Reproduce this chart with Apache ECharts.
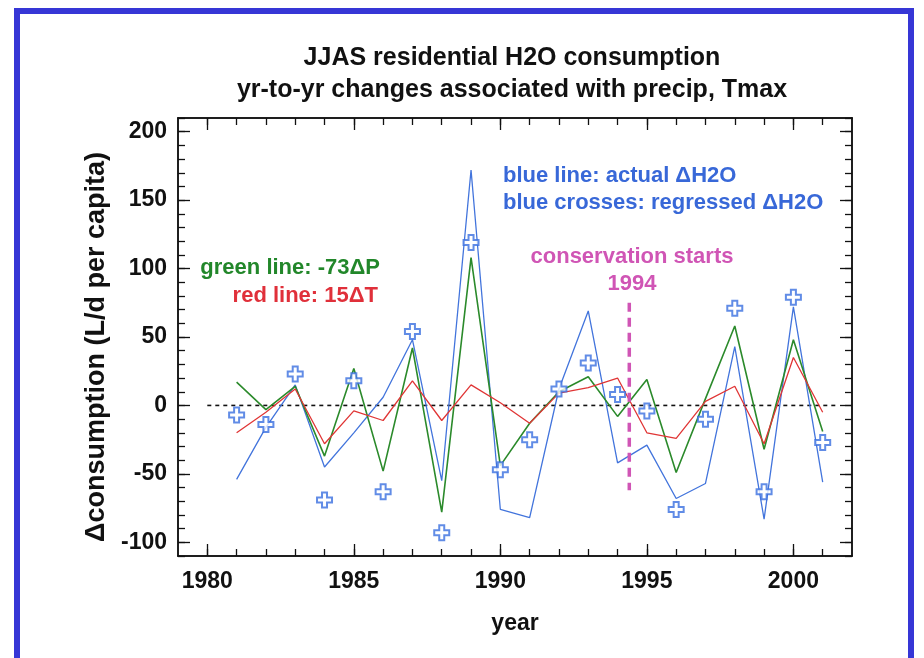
<!DOCTYPE html>
<html><head><meta charset="utf-8">
<script src="https://cdn.jsdelivr.net/npm/echarts@6/dist/echarts.min.js"></script>
<style>html,body{margin:0;padding:0;background:#fff}#c{width:924px;height:658px}</style>
</head><body><div id="c"></div>
<script>
// ---- data ----
const years = [1981,1982,1983,1984,1985,1986,1987,1988,1989,1990,1991,1992,1993,1994,1995,1996,1997,1998,1999,2000,2001];
const blueActual = [-54,-16,15,-45,-20,6,48,-55,172,-76,-82,12,69,-42,-29,-68,-57,43,-83,72,-56];
const blueRegressed = [-7,-14,23,-69,18,-63,54,-93,119,-47,-25,12,31,8,-4,-76,-10,71,-63,79,-27];
const greenPrecip = [17,-3,14,-37,27,-48,42,-78,108,-44,-13,10,21,-8,19,-49,5,58,-32,48,-19];
const redTmax = [-20,-5,12,-28,-4,-11,18,-11,15,2,-13,9,13,20,-20,-24,3,14,-28,35,-5];
const xMajorTicks = [1980,1985,1990,1995,2000];
const xMinorTicks = [1980,1981,1982,1983,1984,1985,1986,1987,1988,1989,1990,1991,1992,1993,1994,1995,1996,1997,1998,1999,2000,2001];
const yMajorTicks = [-100,-50,0,50,100,150,200];
const yMinorTicks = [-110,-100,-90,-80,-70,-60,-50,-40,-30,-20,-10,0,10,20,30,40,50,60,70,80,90,100,110,120,130,140,150,160,170,180,190,200,210];
const zeroLineX = [1980, 2001.5];
const conservationYear = 1994.4;
const conservationSpan = [75, -62];

// ---- chart ----
const FONT = "'Liberation Sans',Arial,sans-serif";
const chart = echarts.init(document.getElementById('c'));
const gridRect = {left:178, top:118, width:674, height:438};
const axisLineStyle = {show:true, onZero:false, lineStyle:{color:'#111', width:1.5}};
function xAx(grid, pos, ticks, len, labels){
  return {type:'value', gridIndex:grid, position:pos, min:1979, max:2002,
    axisLine:axisLineStyle, splitLine:{show:false},
    axisTick:{show:true, inside:true, length:len, customValues:ticks, lineStyle:{color:'#111', width:1.3}},
    axisLabel:labels ? {show:true, customValues:xMajorTicks, formatter:v=>String(v), margin:14, fontSize:23, fontWeight:'bold', fontFamily:FONT, color:'#111'} : {show:false},
    name: labels ? 'year' : '', nameLocation:'middle', nameGap:56,
    nameTextStyle:{fontSize:23, fontWeight:'bold', fontFamily:FONT, color:'#111'}};
}
function yAx(grid, pos, ticks, len, labels){
  return {type:'value', gridIndex:grid, position:pos, min:-110, max:210,
    axisLine:axisLineStyle, splitLine:{show:false},
    axisTick:{show:true, inside:true, length:len, customValues:ticks, lineStyle:{color:'#111', width:1.3}},
    axisLabel:labels ? {show:true, customValues:yMajorTicks, formatter:v=>String(v), margin:11, fontSize:23, fontWeight:'bold', fontFamily:FONT, color:'#111'} : {show:false},
    name: labels ? 'Δconsumption (L/d per capita)' : '', nameLocation:'middle', nameGap:36, nameRotate:90,
    nameTextStyle:{fontSize:27, fontWeight:'bold', fontFamily:FONT, color:'#111', padding:[0,20,0,0]}};
}
const pts = arr => years.map((y,i)=>[y, arr[i]]);

chart.setOption({
  backgroundColor:'#fff',
  animation:false,
  title:{text:'JJAS residential H2O consumption\nyr-to-yr changes associated with precip, Tmax',
    left:507, top:37, textAlign:'center',
    textStyle:{fontSize:25, fontWeight:'bold', lineHeight:32, fontFamily:FONT, color:'#111'}},
  grid:[Object.assign({}, gridRect), Object.assign({}, gridRect)],
  xAxis:[xAx(0,'bottom',xMajorTicks,12,true), xAx(0,'top',xMajorTicks,12,false),
         xAx(1,'bottom',xMinorTicks,7,false), xAx(1,'top',xMinorTicks,7,false)],
  yAxis:[yAx(0,'left',yMajorTicks,12,true), yAx(0,'right',yMajorTicks,12,false),
         yAx(1,'left',yMinorTicks,7,false), yAx(1,'right',yMinorTicks,7,false)],
  series:[
    {type:'line', name:'zero', data:zeroLineX.map(x=>[x,0]), symbol:'none', silent:true,
     lineStyle:{color:'#111', width:1.6, type:[4,4]}},
    {type:'line', name:'actual', data:pts(blueActual), symbol:'none',
     lineStyle:{color:'#4274dc', width:1.3}},
    {type:'line', name:'precip', data:pts(greenPrecip), symbol:'none',
     lineStyle:{color:'#2b8a2b', width:1.6}},
    {type:'line', name:'tmax', data:pts(redTmax), symbol:'none',
     lineStyle:{color:'#e03535', width:1.3}},
    {type:'line', name:'conservation', data:conservationSpan.map(v=>[conservationYear,v]), symbol:'none',
     lineStyle:{color:'#d055b5', width:3.5, type:[9,6]}},
    {type:'scatter', name:'regressed', data:pts(blueRegressed),
     symbol:'path://M-1,-3L1,-3L1,-1L3,-1L3,1L1,1L1,3L-1,3L-1,1L-3,1L-3,-1L-1,-1Z', symbolSize:15,
     itemStyle:{color:'#fff', borderColor:'#3a6fe0', borderWidth:2}, z:5}
  ],
  graphic:[
    {type:'rect', shape:{x:17, y:11, width:894, height:700}, style:{fill:null, stroke:'#3636d6', lineWidth:6}, silent:true},
    {type:'text', x:503, y:176, style:{text:'blue line: actual ΔH2O', font:"bold 22px "+FONT, fill:'#3868d8', verticalAlign:'middle'}},
    {type:'text', x:503, y:203, style:{text:'blue crosses: regressed ΔH2O', font:"bold 22px "+FONT, fill:'#3868d8', verticalAlign:'middle'}},
    {type:'text', x:632, y:257, style:{text:'conservation starts', font:"bold 22px "+FONT, fill:'#d055b5', align:'center', verticalAlign:'middle'}},
    {type:'text', x:632, y:284, style:{text:'1994', font:"bold 22px "+FONT, fill:'#d055b5', align:'center', verticalAlign:'middle'}},
    {type:'text', x:380, y:268, style:{text:'green line: -73ΔP', font:"bold 22px "+FONT, fill:'#22872a', align:'right', verticalAlign:'middle'}},
    {type:'text', x:378, y:296, style:{text:'red line: 15ΔT', font:"bold 22px "+FONT, fill:'#e0303a', align:'right', verticalAlign:'middle'}}
  ]
});
</script></body></html>
